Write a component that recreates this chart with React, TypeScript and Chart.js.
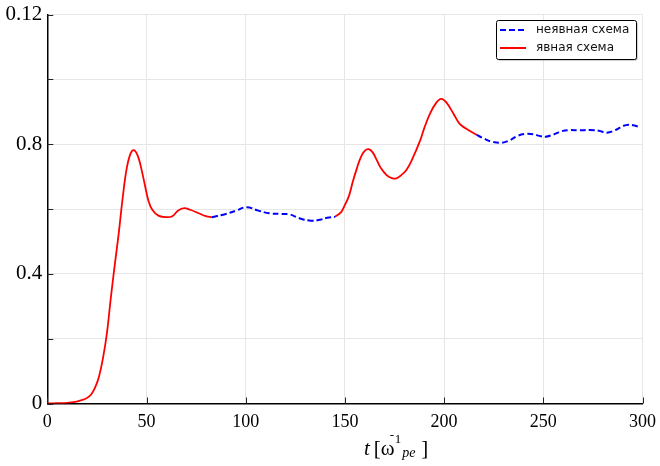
import React, { useEffect, useRef } from "react";
import Chart from "chart.js/auto";

// явная схема (explicit scheme) — two pieces, separated by a gap (null)
const explicitT = [0, 5, 10, 14, 17, 20, 22, 24, 26, 28, 30, 32, 34, 36, 38, 40, 42, 43.7, 45.5, 47, 49, 51, 53, 56, 60, 63, 66, 69, 72, 76, 80, 83,
  114,
  145, 148, 150, 152, 154, 156, 158, 160, 162, 164, 166, 168, 171, 174, 176, 178, 181, 184, 188, 190, 193, 196, 198.5, 201, 204.6, 208, 212, 216.4];
const explicitY: (number | null)[] = [0, 0.0001, 0.0002, 0.0005, 0.001, 0.0017, 0.0027, 0.0048, 0.0082, 0.0138, 0.0215, 0.0325, 0.0428, 0.0525, 0.0635, 0.0725, 0.0772, 0.0782, 0.0766, 0.0735, 0.068, 0.0625, 0.0597, 0.058, 0.0575, 0.0578, 0.0596, 0.0603, 0.0598, 0.0588, 0.0578, 0.0575,
  null,
  0.0576, 0.059, 0.0613, 0.064, 0.0685, 0.0725, 0.076, 0.078, 0.0785, 0.0775, 0.0752, 0.0728, 0.0705, 0.0695, 0.0695, 0.0703, 0.0721, 0.0755, 0.0813, 0.085, 0.0896, 0.0928, 0.094, 0.093, 0.0896, 0.0862, 0.0845, 0.0829];

// неявная схема (implicit scheme)
const implicitT = [83, 90, 95, 100.5, 106, 112, 118, 122, 127, 133, 138, 141, 145,
  180,
  216.4, 220, 224, 229, 233, 237, 241, 245, 248, 251, 255, 259, 263.5, 268, 273.5, 278, 282, 286, 290, 293, 296, 299];
const implicitY: (number | null)[] = [0.0575, 0.0585, 0.0595, 0.0606, 0.0596, 0.0587, 0.0585, 0.0584, 0.0572, 0.0564, 0.0568, 0.0573, 0.0576,
  null,
  0.0829, 0.0818, 0.0808, 0.0805, 0.0812, 0.0826, 0.0832, 0.0831, 0.0826, 0.0823, 0.083, 0.084, 0.0844, 0.0843, 0.0844, 0.0842, 0.0836, 0.0843, 0.0856, 0.086, 0.0858, 0.0852];

const seriesLabels = ["неявная схема", "явная схема"];
const xTickValues = [0, 50, 100, 150, 200, 250, 300];
const yTickValues = [0, 0.04, 0.08, 0.12];
const yTickLabels = ["0", "0.4", "0.8", "0.12"];

const SERIF = '"Liberation Serif", "Times New Roman", serif';
const SANS = '"DejaVu Sans", sans-serif';

const toPoints = (ts: number[], ys: (number | null)[]) => ts.map((t, i) => ({ x: t, y: ys[i] }));

const inwardTicks = {
  id: "inwardTicks",
  afterDatasetsDraw(chart: any) {
    const { ctx, chartArea, scales } = chart;
    ctx.save();
    ctx.strokeStyle = "#222";
    ctx.lineWidth = 1;
    const ys = scales.y;
    for (let v = 0; v <= 0.12 + 1e-9; v += 0.02) {
      const py = Math.round(ys.getPixelForValue(v)) + 0.5;
      ctx.beginPath();
      ctx.moveTo(chartArea.left, py);
      ctx.lineTo(chartArea.left + 6, py);
      ctx.stroke();
    }
    const xs = scales.x;
    xTickValues.forEach((v) => {
      const px = Math.round(xs.getPixelForValue(v)) + 0.5;
      ctx.beginPath();
      ctx.moveTo(px, chartArea.bottom);
      ctx.lineTo(px, chartArea.bottom - 6);
      ctx.stroke();
    });
    ctx.restore();
  },
};

const customLegend = {
  id: "customLegend",
  afterDraw(chart: any) {
    const { ctx } = chart;
    const x = 496.5, y = 20.5, w = 140, h = 39, r = 2;
    ctx.save();
    ctx.shadowColor = "rgba(0,0,0,0.35)";
    ctx.shadowOffsetX = 1;
    ctx.shadowOffsetY = 1;
    ctx.shadowBlur = 1;
    ctx.fillStyle = "#fff";
    ctx.beginPath();
    ctx.roundRect(x, y, w, h, r);
    ctx.fill();
    ctx.shadowColor = "transparent";
    ctx.strokeStyle = "#000";
    ctx.lineWidth = 1;
    ctx.stroke();
    const ds = chart.data.datasets;
    const rows = [30, 48];
    ds.forEach((d: any, i: number) => {
      ctx.beginPath();
      ctx.strokeStyle = d.borderColor;
      ctx.lineWidth = 2;
      ctx.setLineDash(d.borderDash || []);
      ctx.moveTo(500, rows[i]);
      ctx.lineTo(526, rows[i]);
      ctx.stroke();
      ctx.setLineDash([]);
      ctx.fillStyle = "#111";
      ctx.font = `12px ${SANS}`;
      ctx.textBaseline = "middle";
      ctx.textAlign = "left";
      ctx.fillText(d.label, 536, rows[i]);
    });
    ctx.restore();
  },
};

const axisTitle = {
  id: "axisTitle",
  afterDraw(chart: any) {
    const { ctx } = chart;
    ctx.save();
    ctx.fillStyle = "#000";
    ctx.textBaseline = "alphabetic";
    ctx.textAlign = "left";
    const base = 455;
    let x = 364;
    ctx.font = `italic 21px ${SERIF}`;
    ctx.fillText("t", x, base);
    x += ctx.measureText("t").width + 4;
    ctx.font = `21px ${SERIF}`;
    ctx.fillText("[", x, base);
    x += ctx.measureText("[").width;
    ctx.fillText("ω", x, base);
    x += ctx.measureText("ω").width;
    ctx.font = `13px ${SERIF}`;
    ctx.fillText("-", x - 5, 439);
    ctx.fillText("1", x, 443);
    x += ctx.measureText("1").width + 1;
    ctx.font = `italic 14px ${SERIF}`;
    ctx.fillText("pe", x, 457);
    x += ctx.measureText("pe").width + 6;
    ctx.font = `21px ${SERIF}`;
    ctx.fillText("]", x, base);
    ctx.restore();
  },
};

export default function App() {
  const ref = useRef<HTMLCanvasElement | null>(null);
  useEffect(() => {
    if (!ref.current) return;
    const chart = new Chart(ref.current, {
      type: "line",
      data: {
        datasets: [
          {
            label: seriesLabels[0],
            data: toPoints(implicitT, implicitY),
            borderColor: "#0000ff",
            borderWidth: 2,
            borderDash: [6, 3],
            pointRadius: 0,
            tension: 0.4,
            spanGaps: false,
          },
          {
            label: seriesLabels[1],
            data: toPoints(explicitT, explicitY),
            borderColor: "#ff0000",
            borderWidth: 1.8,
            pointRadius: 0,
            tension: 0.4,
            spanGaps: false,
          },
        ],
      },
      options: {
        animation: false,
        responsive: false,
        devicePixelRatio: 1,
        layout: { padding: { left: 0, top: 14.7, right: 17.5, bottom: 0 } },
        plugins: { legend: { display: false }, tooltip: { enabled: false } },
        scales: {
          x: {
            type: "linear",
            min: 0,
            max: 300,
            afterFit: (s: any) => { s.height = 62.5; s.paddingLeft = 0; s.paddingRight = 0; },
            afterBuildTicks: (s: any) => { s.ticks = xTickValues.map((v) => ({ value: v })); },
            grid: { color: "#e6e6e6", lineWidth: 1, drawTicks: false },
            border: { display: true, color: "#000", width: 1.5 },
            ticks: {
              color: "#000",
              font: { family: SERIF, size: 18 },
              padding: 8,
              maxRotation: 0,
            },
          },
          y: {
            type: "linear",
            min: 0,
            max: 0.12,
            afterFit: (s: any) => { s.width = 47.3; s.paddingTop = 0; s.paddingBottom = 0; },
            ticks: {
              stepSize: 0.02,
              color: "#000",
              font: { family: SERIF, size: 21 },
              padding: 5,
              callback: (v: any) => {
                const i = yTickValues.findIndex((t) => Math.abs(t - Number(v)) < 1e-9);
                return i >= 0 ? yTickLabels[i] : "";
              },
            },
            grid: { color: "#e6e6e6", lineWidth: 1, drawTicks: false },
            border: { display: true, color: "#000", width: 1.5 },
          },
        },
      },
      plugins: [inwardTicks, customLegend, axisTitle],
    });
    return () => chart.destroy();
  }, []);
  return (
    <div style={{ position: "fixed", left: 0, top: 0, width: 660, height: 466, background: "#fff" }}>
      <canvas ref={ref} width={660} height={466} style={{ width: 660, height: 466, display: "block" }} />
    </div>
  );
}
